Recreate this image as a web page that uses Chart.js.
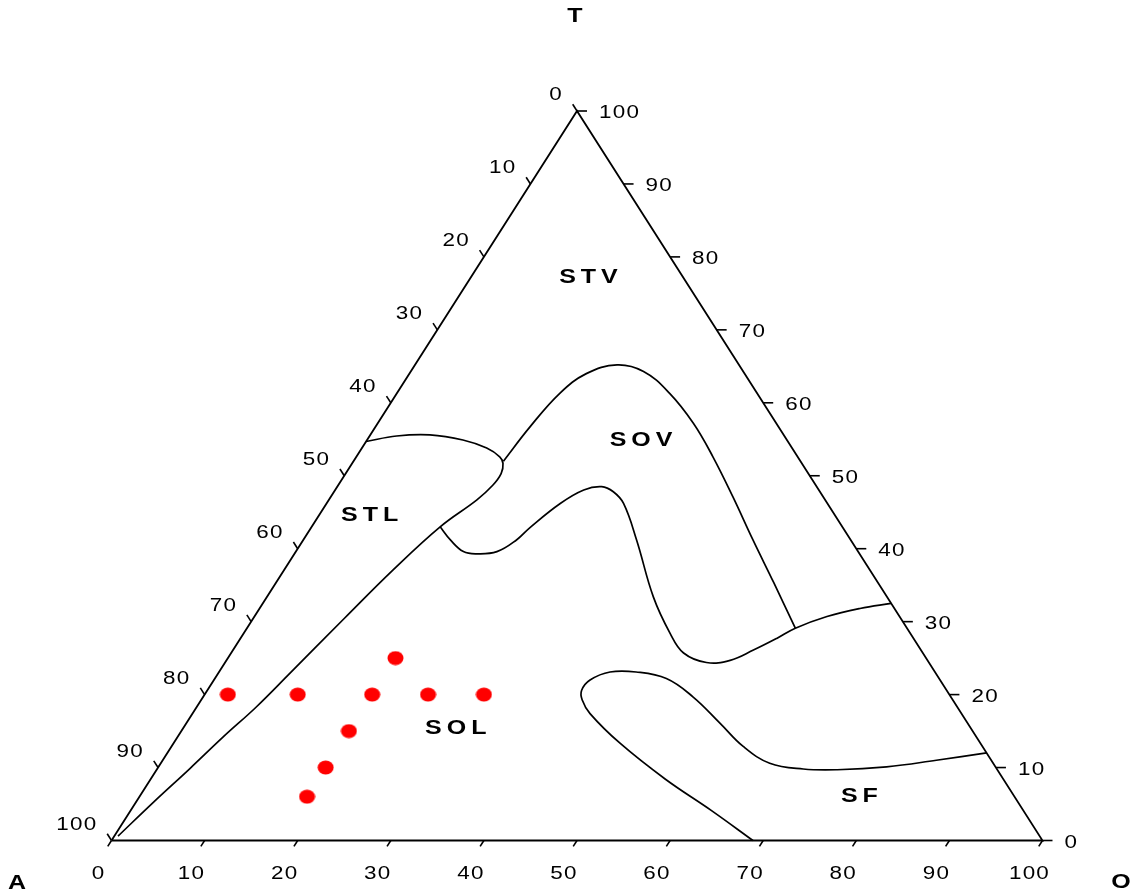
<!DOCTYPE html>
<html>
<head>
<meta charset="utf-8">
<script src="https://cdn.jsdelivr.net/npm/chart.js@4.4.1/dist/chart.umd.min.js"></script>
<style>
html,body{margin:0;padding:0;background:#fff}
#wrap{width:1131px;height:892px}
</style>
</head>
<body>
<div id="wrap"><canvas id="c" width="1131" height="892"></canvas></div>
<script>
// ternary coordinates: O = bottom axis, T = right axis, A = 100 - O - T (left axis)
const tickValues = [0,10,20,30,40,50,60,70,80,90,100];

// measured samples (red dots)
const sampleO = [2.5,10,18,24,30,18,18,18,18];
const sampleT = [20,20,20,20,20,25,15,10,6];

// STL boundary: left edge -> nose -> down to the A corner
const stlO = [0,2.9,6.4,10.3,13.4,15.4,16.2,16.7,16.6,15.9,13.8,11.7,9.8,7.7,6.4,4.9,3.5,1.9,0.4];
const stlT = [54.7,55.45,55.6,54.9,53.8,52.6,51.7,50.3,48.7,46.7,43.0,37.1,30.5,22.9,18.3,14.2,9.9,5.3,0.6];

// SOL / SOV lower boundary: junction -> right edge
const solO = [13.8,15.8,18.0,19.6,21.6,22.9,23.5,25.1,26.7,28.4,30.0,31.9,35.8,41.5,45.8,48.6,51.7,54.1,55.9,57.6,58.9,61.5,64.5,67.5];
const solT = [43.0,41.2,39.6,39.3,39.6,41.2,42.9,46.2,48.05,48.5,47.8,46.2,41.2,33.4,28.4,25.7,24.4,24.7,26.1,27.7,29.1,30.7,31.8,32.5];

// SOV upper boundary: nose -> hump -> meets lower boundary
const sovO = [16.1,16.6,17.5,19.0,21.7,25.0,29.3,33.9,38.3,43.2,48.3,53.5,58.9];
const sovT = [52.0,56.7,61.3,64.0,65.2,64.3,61.3,57.2,52.6,47.1,41.2,35.3,29.1];

// SF boundary: base -> loop -> right edge
const sfO = [68.9,62.4,55.3,48.0,42.7,40.9,40.2,40.4,42.0,44.8,48.5,52.6,57.3,61.4,65.4,69.4,73.1,78.2,83.1,88.0];
const sfT = [0,4.1,8.4,13.3,17.4,19.3,20.6,22.0,23.1,23.1,22.2,19.7,16.1,12.9,10.6,9.8,9.7,10.1,11.0,12.0];

// region names and where they sit (ternary O, T)
const regionNames = ['STV','SOV','STL','SOL','SF'];
const regionO = [12.9,29.7,5.7,29.6,77.6];
const regionT = [77.2,54.9,44.6,15.3,6.0];

const toXY = (o,t) => ({x:o+t/2, y:t});
const curve = (os,ts) => os.map((o,i)=>toXY(o,ts[i]));

// red elliptical dot
const dot = document.createElement('canvas');
dot.width = 17; dot.height = 15;
{
  const g = dot.getContext('2d');
  g.fillStyle = '#ff0000';
  g.beginPath(); g.ellipse(8.5,7.5,8,7,0,0,Math.PI*2); g.fill();
}

const line = (data,tension) => ({data, showLine:true, borderColor:'#000', borderWidth:1.7,
  pointRadius:0, tension, clip:false});

const frame = line([toXY(0,0),toXY(100,0),toXY(0,100),toXY(0,0)],0);
frame.borderWidth = 1.8;

const SANS = '"Liberation Sans", Arial, sans-serif';

const ternaryText = {
  id:'ternaryText',
  afterDatasetsDraw(chart){
    const {ctx, scales:{x,y}} = chart;
    const px = (o,t)=>[x.getPixelForValue(o+t/2), y.getPixelForValue(t)];
    const A=px(0,0), O=px(100,0), T=px(0,100);
    const unit=(p,q)=>{const dx=q[0]-p[0], dy=q[1]-p[1], l=Math.hypot(dx,dy); return [dx/l,dy/l];};
    const dLeft=unit(O,T), dBottom=unit(T,A), dRight=[1,0];
    const seg=(p,d,len)=>{ctx.beginPath();ctx.moveTo(p[0],p[1]);ctx.lineTo(p[0]+d[0]*len,p[1]+d[1]*len);ctx.stroke();};
    const text=(s,tx,ty,align,font,sx,ls)=>{
      ctx.save(); ctx.translate(tx,ty); ctx.scale(sx,1);
      ctx.font=font; ctx.letterSpacing=ls; ctx.textAlign=align; ctx.textBaseline='middle';
      ctx.fillText(s,0,0); ctx.restore();
    };
    ctx.save();
    ctx.strokeStyle='#000'; ctx.fillStyle='#000'; ctx.lineWidth=1.6;
    const numFont='17.5px '+SANS;
    tickValues.forEach(v=>{
      let p=px(0,100-v);
      seg(p,dLeft,8); text(String(v),p[0]-14,p[1]-15.5,'right',numFont,1.28,'1px');
      p=px(100-v,v);
      seg(p,dRight,10); text(String(v),p[0]+22,p[1]+2.5,'left',numFont,1.28,'1px');
      p=px(v,0);
      seg(p,dBottom,7); text(String(v),p[0]-13,p[1]+33.5,'center',numFont,1.28,'1px');
    });
    const boldFont='bold 20px '+SANS;
    regionNames.forEach((n,i)=>{
      const p=px(regionO[i],regionT[i]);
      text(n,p[0],p[1],'center',boldFont,1.25,'4px');
    });
    text('T',T[0]-2,T[1]-95,'center',boldFont,1.25,'0px');
    text('A',A[0]-94.5,A[1]+43,'center',boldFont,1.25,'0px');
    text('O',O[0]+78.5,O[1]+42,'center',boldFont,1.25,'0px');
    ctx.restore();
  }
};

new Chart(document.getElementById('c'), {
  type:'scatter',
  data:{datasets:[
    frame,
    line(curve(stlO,stlT),0.4),
    line(curve(solO,solT),0.4),
    line(curve(sovO,sovT),0.4),
    line(curve(sfO,sfT),0.4),
    {data:curve(sampleO,sampleT), pointStyle:dot, pointRadius:8, clip:false}
  ]},
  options:{
    responsive:false, animation:false, devicePixelRatio:1,
    layout:{padding:{left:111.5,right:88.5,top:111,bottom:51.5}},
    scales:{
      x:{type:'linear',min:0,max:100,display:false},
      y:{type:'linear',min:0,max:100,display:false}
    },
    plugins:{legend:{display:false},tooltip:{enabled:false}}
  },
  plugins:[ternaryText]
});
</script>
</body>
</html>
